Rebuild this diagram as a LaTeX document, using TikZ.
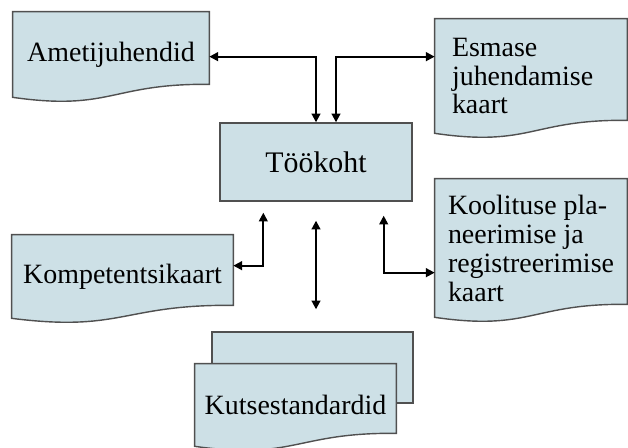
\documentclass[tikz,border=0pt]{standalone}
\usepackage{fontspec}
\setmainfont{Liberation Serif}
\usetikzlibrary{arrows.meta, positioning, calc, backgrounds}

\definecolor{docblue}{RGB}{205,224,230}
\definecolor{edgegray}{RGB}{80,80,80}

\tikzset{
  box/.style={draw=edgegray, fill=docblue, line width=0.8pt},
  doc/.style={inner sep=0pt, font=\fontsize{15.9}{16.5}\selectfont},
  link/.style={line width=1.1pt, {Triangle[length=5pt,width=5pt]}-{Triangle[length=5pt,width=5pt]}},
}

\begin{document}
\begin{tikzpicture}[x=0.02cm, y=-0.02cm]
    \useasboundingbox (0,0) rectangle (628,448);

    % Documents around the workplace
    \node[doc, minimum width=3.92cm, minimum height=1.7cm] (ameti) at (111,54.5) {Ametijuhendid};
    \node[doc, minimum width=3.84cm, minimum height=2.28cm, text width=3.16cm, align=left, inner xsep=0.34cm] (esmase) at (531,76) {Esmase\\juhendamise\\kaart};
    \node[doc, minimum width=4.42cm, minimum height=1.66cm] (kompet) at (122.5,276.5) {Kompetentsikaart};
    \node[doc, minimum width=3.84cm, minimum height=2.76cm, align=left] (koolitus) at (531,248) {Koolituse pla-\\neerimise ja\\registreerimise\\kaart};
    \node[doc, minimum width=4.02cm, minimum height=1.64cm] (kutse) at (295.5,405) {Kutsestandardid};

    % Center box
    \node[box, doc, font=\fontsize{17}{17}\selectfont, minimum width=3.84cm, minimum height=1.56cm] (tookoht) at (316,162) {Töökoht};

    % Document shapes (wavy bottom)
    \begin{scope}[on background layer]
        \node[box, minimum width=4.02cm, minimum height=1.42cm] (kutsetaga) at (312.5,367.5) {};
        \foreach \n in {ameti, esmase, kompet, koolitus, kutse}
            \draw[box] (\n.north west) -- (\n.north east) -- ($(\n.south east)+(0,-13)$)
                .. controls ($(\n.south)+(0,-14)$) and ($(\n.south)+(0,14)$) .. (\n.south west) -- cycle;
    \end{scope}

    % Connectors
    \draw[link] ($(ameti.north east)+(0,45)$) -| (tookoht.north);
    \draw[link] ($(tookoht.north)+(20,0)$) |- ($(esmase.north west)+(0,38)$);
    \draw[link] ($(kompet.north east)+(0,31)$) -| ($(tookoht.south west)+(44,11)$);
    \draw[link] ($(tookoht.south)+(0,19)$) -- ($(tookoht.south |- kutsetaga.north)+(0,-22)$);
    \draw[link] ($(tookoht.south east)+(-29,14)$) |- ($(koolitus.north west)+(0,94)$);
\end{tikzpicture}
\end{document}
